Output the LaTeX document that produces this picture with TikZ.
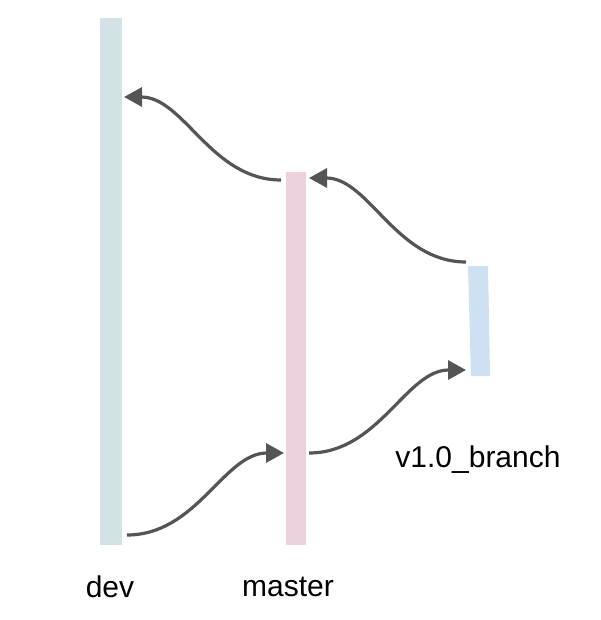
\documentclass[tikz,border=0pt]{standalone}
\usepackage{fontspec}
\setmainfont{Liberation Sans}
\usetikzlibrary{arrows.meta}
\definecolor{devc}{HTML}{D3E2E4}
\definecolor{masc}{HTML}{EDD1DC}
\definecolor{verc}{HTML}{CDE1F3}
\definecolor{arr}{HTML}{555555}
\tikzset{
  bar/.style={inner sep=0pt, draw=none},
  lbl/.style={inner sep=0pt, font=\fontsize{30}{33}\selectfont},
  conn/.style={draw=arr, line width=3.2pt, -{Triangle[length=18pt,width=19pt]}}
}
\begin{document}
\begin{tikzpicture}[x=1pt,y=-1pt]
\useasboundingbox (0,0) rectangle (600,620);
\fill[devc] (100,18) rectangle (122,545);
\fill[masc] (286,172) rectangle (306,545);
\fill[verc] (468,266) -- (488,266) -- (490,376) -- (471,376) -- cycle;
\node[bar, minimum width=22pt, minimum height=527pt] (dev) at (111,281.5) {};
\node[bar, minimum width=20pt, minimum height=373pt] (master) at (296,358.5) {};
\node[bar, minimum width=20pt, minimum height=110pt] (ver) at (479,321) {};
\node[lbl] (devl) at (110,587) {dev};
\node[lbl] (masl) at (288,587) {master};
\node[lbl] (verl) at (478,460) {v1.0\_branch};
\coordinate (a1s) at (127,535);
\coordinate (a1e) at (284,453);
\draw[conn] (a1s) .. controls +(70,0) and +(-60,0) .. (a1e);
\coordinate (a2s) at (309,453);
\coordinate (a2e) at (466,370);
\draw[conn] (a2s) .. controls +(70,0) and +(-60,0) .. (a2e);
\coordinate (a3s) at (281,180);
\coordinate (a3e) at (124,97);
\draw[conn] (a3s) .. controls +(-70,0) and +(60,0) .. (a3e);
\coordinate (a4s) at (466,262);
\coordinate (a4e) at (309,178);
\draw[conn] (a4s) .. controls +(-70,0) and +(60,0) .. (a4e);
\end{tikzpicture}
\end{document}
